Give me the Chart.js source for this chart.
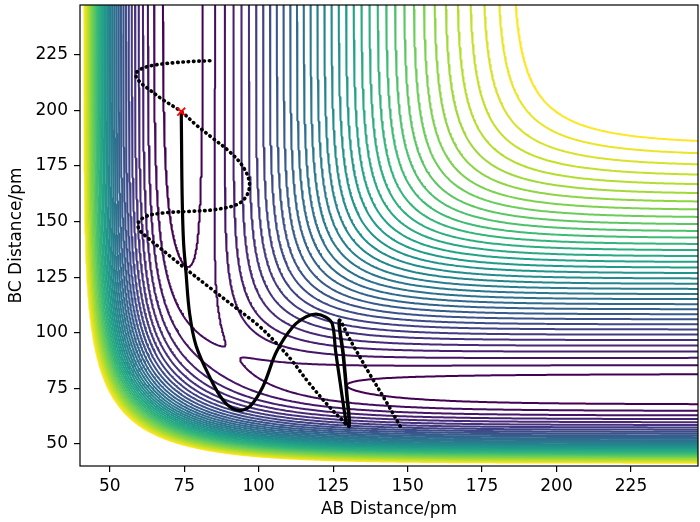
<!DOCTYPE html>
<html>
<head>
<meta charset="utf-8">
<script src="https://cdn.jsdelivr.net/npm/chart.js@4.4.1/dist/chart.umd.min.js"></script>
<style>
  html, body { margin: 0; padding: 0; background: #fff; }
</style>
</head>
<body>
<canvas id="chart" width="700" height="522"></canvas>
<script>
// axes (pm)
const axisMin = 40, axisMax = 247.5;
const xTicks = [50, 75, 100, 125, 150, 175, 200, 225];
const yTicks = [50, 75, 100, 125, 150, 175, 200, 225];

// contour levels of the surface, kJ/mol
const levels = [-450, -440, -430, -420, -410, -400, -390, -380, -370, -360,
                -350, -340, -330, -320, -310, -300, -290, -280, -270, -260,
                -250, -240, -230, -220, -210, -200, -190, -180, -170, -160,
                -150, -140, -130, -120, -110, -100];

// LEPS parameters for H + H2
const De = 458;        // kJ/mol
const beta = 0.01942;  // 1/pm
const r0 = 74.1;       // pm
const sato = 0.19;

// red cross: start point
const startX = [74.0];
const startY = [199.5];

// trajectory 1 (dense)
const trajAx = [74.0, 74.1, 74.2, 74.4, 74.8, 75.5, 76.8, 79.0, 83.5, 88.0, 92.5, 96.9, 101.4, 106.0,
                111.5, 116.0, 119.3, 122.5, 124.7, 125.8, 127.3, 128.6, 129.5];
const trajAy = [199.5, 185.0, 170.0, 155.0, 140.0, 128.6, 108.7, 94.0, 80.2, 69.7, 65.2, 66.7, 75.7, 91.5,
                102.7, 107.2, 108.4, 107.0, 104.0, 92.0, 78.0, 66.0, 58.4];

// trajectory 2 (sparse dots)
const trajBx = [83.6, 78.0, 72.3, 65.6, 61.0, 58.7, 60.0, 63.4, 67.9, 74.0, 79.0, 84.6, 90.2, 94.7,
                96.9, 95.8, 92.5, 84.6, 76.8, 67.9, 62.3, 59.5, 60.0, 62.5, 67.0, 74.6, 84.6, 92.5,
                100.3, 105.9, 110.8, 117.1, 123.8, 128.2, 130.3, 129.6, 128.4, 127.1, 131.0, 137.0,
                143.0, 147.9];
const trajBy = [222.4, 222.1, 221.6, 220.6, 219.0, 216.4, 213.0, 209.3, 204.8, 199.5, 193.5, 187.5, 181.5, 174.8,
                167.3, 161.3, 157.6, 155.3, 154.6, 153.9, 152.4, 149.4, 146.2, 143.0, 138.0, 129.7, 119.2, 111.0,
                102.8, 95.3, 88.0, 77.0, 66.5, 60.5, 58.0, 72.0, 90.0, 105.5, 96.0, 82.0,
                68.5, 57.0];

const viridis = ['#440154', '#482878', '#3e4989', '#31688e', '#26828e',
                 '#1f9e89', '#35b779', '#6ece58', '#b5de2b', '#fde725'];

function cmap(t) {
  const p = Math.max(0, Math.min(1, t)) * (viridis.length - 1);
  const i = Math.min(viridis.length - 2, Math.floor(p));
  const f = p - i;
  const a = viridis[i], b = viridis[i + 1];
  const ch = k => {
    const va = parseInt(a.substr(1 + 2 * k, 2), 16), vb = parseInt(b.substr(1 + 2 * k, 2), 16);
    return Math.round(va + (vb - va) * f);
  };
  return `rgb(${ch(0)},${ch(1)},${ch(2)})`;
}

function leps(rab, rbc) {
  const rs = [rab, rbc, rab + rbc];
  const q = [], j = [];
  for (const r of rs) {
    const e1 = Math.exp(-beta * (r - r0)), e2 = e1 * e1;
    q.push(De / 4 * ((3 + sato) * e2 - (2 + 6 * sato) * e1));
    j.push(De / 4 * ((1 + 3 * sato) * e2 - (6 + 2 * sato) * e1));
  }
  const s = 0.5 * ((j[0] - j[1]) ** 2 + (j[1] - j[2]) ** 2 + (j[2] - j[0]) ** 2);
  return (q[0] + q[1] + q[2] - Math.sqrt(s)) / (1 + sato);
}

// sample surface
const n = 301;
const step = (axisMax - axisMin) / (n - 1);
const gx = i => axisMin + i * step;
const Z = new Float64Array(n * n);
for (let jj = 0; jj < n; jj++)
  for (let ii = 0; ii < n; ii++)
    Z[jj * n + ii] = leps(gx(ii), gx(jj));

// marching squares, chained into polylines
function contour(level) {
  const H = (i, j) => j * n + i;            // edge (i,j)-(i+1,j)
  const V = (i, j) => n * n + j * n + i;    // edge (i,j)-(i,j+1)
  const edgePt = id => {
    if (id < n * n) {
      const j = Math.floor(id / n), i = id % n;
      const a = Z[j * n + i], b = Z[j * n + i + 1];
      return { x: gx(i) + step * (level - a) / (b - a), y: gx(j) };
    }
    const k = id - n * n, j = Math.floor(k / n), i = k % n;
    const a = Z[j * n + i], b = Z[(j + 1) * n + i];
    return { x: gx(i), y: gx(j) + step * (level - a) / (b - a) };
  };
  const segs = [];
  for (let j = 0; j < n - 1; j++) {
    for (let i = 0; i < n - 1; i++) {
      const v0 = Z[j * n + i], v1 = Z[j * n + i + 1], v2 = Z[(j + 1) * n + i + 1], v3 = Z[(j + 1) * n + i];
      const s0 = v0 > level, s1 = v1 > level, s2 = v2 > level, s3 = v3 > level;
      const cr = [];
      if (s0 !== s1) cr.push(H(i, j));
      if (s1 !== s2) cr.push(V(i + 1, j));
      if (s3 !== s2) cr.push(H(i, j + 1));
      if (s0 !== s3) cr.push(V(i, j));
      if (cr.length === 2) segs.push(cr);
      else if (cr.length === 4) {
        const c = (v0 + v1 + v2 + v3) / 4 > level;
        if (c === s0) { segs.push([cr[0], cr[1]]); segs.push([cr[2], cr[3]]); }
        else { segs.push([cr[0], cr[3]]); segs.push([cr[1], cr[2]]); }
      }
    }
  }
  const adj = new Map();
  segs.forEach((s, k) => {
    for (const e of s) { const l = adj.get(e); if (l) l.push(k); else adj.set(e, [k]); }
  });
  const used = new Uint8Array(segs.length);
  const extend = chain => {
    for (;;) {
      const e = chain[chain.length - 1];
      let nx = -1;
      for (const s of adj.get(e)) if (!used[s]) { nx = s; break; }
      if (nx < 0) return;
      used[nx] = 1;
      chain.push(segs[nx][0] === e ? segs[nx][1] : segs[nx][0]);
    }
  };
  const out = [];
  for (let k = 0; k < segs.length; k++) {
    if (used[k]) continue;
    used[k] = 1;
    const chain = [segs[k][0], segs[k][1]];
    extend(chain);
    chain.reverse();
    extend(chain);
    for (const e of chain) out.push(edgePt(e));
    out.push({ x: NaN, y: NaN });
  }
  return out;
}

const datasets = [];

datasets.push({
  data: startX.map((x, i) => ({ x, y: startY[i] })),
  showLine: false,
  pointStyle: 'crossRot',
  pointRadius: 5.5,
  pointBorderColor: '#ff0000',
  pointBorderWidth: 1.8,
  order: 0
});

datasets.push({
  data: trajAx.map((x, i) => ({ x, y: trajAy[i] })),
  borderColor: '#000',
  borderWidth: 3.2,
  tension: 0.35,
  order: 1
});

// segments of trajectory 2 that look continuous (slow part near the bottom)
const solidFrom = 34, solidTo = 37;
datasets.push({
  data: trajBx.map((x, i) => ({ x, y: trajBy[i] })),
  borderColor: '#000',
  borderWidth: 3.6,
  borderCapStyle: 'round',
  tension: 0.35,
  segment: {
    borderDash: ctx => (ctx.p0DataIndex >= solidFrom && ctx.p0DataIndex < solidTo) ? [] : [0.5, 4.8]
  },
  order: 2
});

levels.forEach((lv, k) => {
  datasets.push({
    data: contour(lv),
    borderColor: cmap(k / (levels.length - 1)),
    borderWidth: 2,
    tension: 0,
    spanGaps: false,
    clip: 0,
    order: 10
  });
});

const frame = {
  id: 'frame',
  afterDatasetsDraw(chart) {
    const a = chart.chartArea, ctx = chart.ctx;
    ctx.save();
    ctx.strokeStyle = '#000';
    ctx.lineWidth = 1.2;
    ctx.strokeRect(a.left, a.top, a.right - a.left, a.bottom - a.top);
    ctx.restore();
  }
};

const font = { family: 'DejaVu Sans', size: 17 };
const noPad = s => { s.paddingTop = 0; s.paddingBottom = 0; s.paddingLeft = 0; s.paddingRight = 0; };

new Chart(document.getElementById('chart').getContext('2d'), {
  type: 'line',
  data: { datasets },
  plugins: [frame],
  options: {
    responsive: false,
    animation: false,
    layout: { autoPadding: false, padding: { top: 5, right: 2, left: 0, bottom: 0 } },
    elements: { point: { radius: 0, hitRadius: 0 }, line: { borderJoinStyle: 'round' } },
    plugins: { legend: { display: false }, tooltip: { enabled: false } },
    events: [],
    scales: {
      x: {
        type: 'linear',
        min: axisMin,
        max: axisMax,
        afterBuildTicks: s => { s.ticks = xTicks.map(v => ({ value: v })); },
        afterFit: s => { s.height = 56; noPad(s); },
        ticks: { font, color: '#000', padding: 4, maxRotation: 0 },
        grid: { drawOnChartArea: false, drawTicks: true, tickLength: 6, color: '#000', lineWidth: 1.2 },
        border: { display: false },
        title: { display: true, text: 'AB Distance/pm', font, color: '#000', padding: { top: 0, bottom: 2 } }
      },
      y: {
        type: 'linear',
        min: axisMin,
        max: axisMax,
        afterBuildTicks: s => { s.ticks = yTicks.map(v => ({ value: v })); },
        afterFit: s => { s.width = 80; noPad(s); },
        ticks: { font, color: '#000', padding: 6 },
        grid: { drawOnChartArea: false, drawTicks: true, tickLength: 6, color: '#000', lineWidth: 1.2 },
        border: { display: false },
        title: { display: true, text: 'BC Distance/pm', font, color: '#000', padding: { top: 6.5, bottom: 0 } }
      }
    }
  }
});
</script>
</body>
</html>
